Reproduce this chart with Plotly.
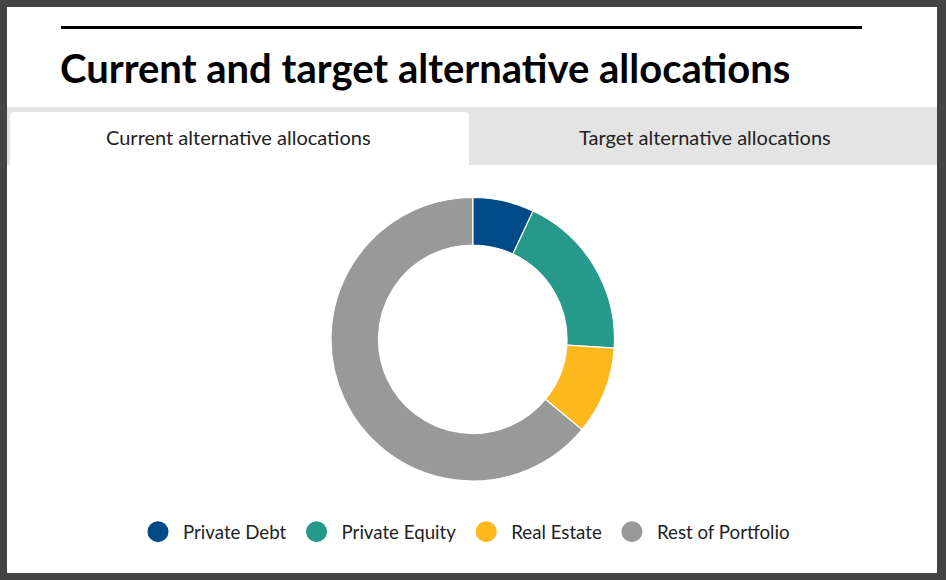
import plotly.graph_objects as go

# data
labels = ["Private Debt", "Private Equity", "Real Estate", "Rest of Portfolio"]
values = [7, 19, 10, 64]
colors = ["#004b87", "#26998a", "#fdb81e", "#999999"]
tab_labels = ["Current alternative allocations", "Target alternative allocations"]
title_text = "Current and target alternative allocations"

W, H = 946, 580


def px(x):
    return x / W


def py(y):
    return 1 - y / H


fig = go.Figure()

# donut
fig.add_trace(go.Pie(
    labels=labels,
    values=values,
    hole=0.665,
    sort=False,
    direction="clockwise",
    rotation=0,
    textinfo="none",
    marker=dict(colors=colors, line=dict(color="white", width=1.2)),
    showlegend=False,
    domain=dict(x=[px(331), px(614.5)], y=[py(481), py(197.5)]),
))

# legend entries with round markers (outline in same colour to enlarge the dot)
for lab, col in zip(labels, colors):
    fig.add_trace(go.Scatter(
        x=[None], y=[None], mode="markers", name=lab,
        marker=dict(symbol="circle", size=16, color=col, line=dict(color=col, width=5)),
    ))

shapes = [
    # white card inside the dark frame
    dict(type="rect", x0=px(7), x1=px(937), y0=py(573), y1=py(7),
         fillcolor="white", line=dict(width=0), layer="below"),
    # rule above title
    dict(type="line", x0=px(61), x1=px(862), y0=py(27.5), y1=py(27.5),
         line=dict(color="black", width=3)),
    # tab bar
    dict(type="rect", x0=px(7), x1=px(937), y0=py(165), y1=py(107),
         fillcolor="#e4e4e4", line=dict(width=0), layer="below"),
]

# active tab with rounded top corners
r = 4
x0, x1, y0, y1 = 10, 469, 112, 166
path = (f"M {px(x0)} {py(y1)} L {px(x0)} {py(y0 + r)} "
        f"Q {px(x0)} {py(y0)} {px(x0 + r)} {py(y0)} "
        f"L {px(x1 - r)} {py(y0)} Q {px(x1)} {py(y0)} {px(x1)} {py(y0 + r)} "
        f"L {px(x1)} {py(y1)} Z")
shapes.append(dict(type="path", path=path, fillcolor="white", line=dict(width=0), layer="below"))

for s in shapes:
    s["xref"] = "paper"
    s["yref"] = "paper"

annotations = [
    dict(text=f"<b>{title_text}</b>", x=px(58), y=py(68), xanchor="left", yanchor="middle",
         showarrow=False, font=dict(family="Lato", size=40, color="black")),
    dict(text=tab_labels[0], x=px(239), y=py(137), xanchor="center", yanchor="middle",
         showarrow=False, font=dict(family="Lato", size=20, color="#222222")),
    dict(text=tab_labels[1], x=px(705), y=py(137), xanchor="center", yanchor="middle",
         showarrow=False, font=dict(family="Lato", size=20, color="#222222")),
]
for a in annotations:
    a["xref"] = "paper"
    a["yref"] = "paper"

fig.update_layout(
    width=W, height=H,
    margin=dict(l=0, r=0, t=0, b=0),
    paper_bgcolor="#444444",
    plot_bgcolor="rgba(0,0,0,0)",
    xaxis=dict(visible=False),
    yaxis=dict(visible=False),
    shapes=shapes,
    annotations=annotations,
    legend=dict(
        orientation="h", x=px(464), xanchor="center", y=py(532), yanchor="middle",
        font=dict(family="Lato", size=18.7, color="#222222"),
        itemwidth=40,
        bgcolor="rgba(0,0,0,0)", itemclick=False, itemdoubleclick=False,
    ),
    hovermode=False,
)

# drop the default page margin so the figure sits at the window origin
fig.write_html("out.html", config={"displayModeBar": False},
               post_script="document.body.style.margin='0';")
